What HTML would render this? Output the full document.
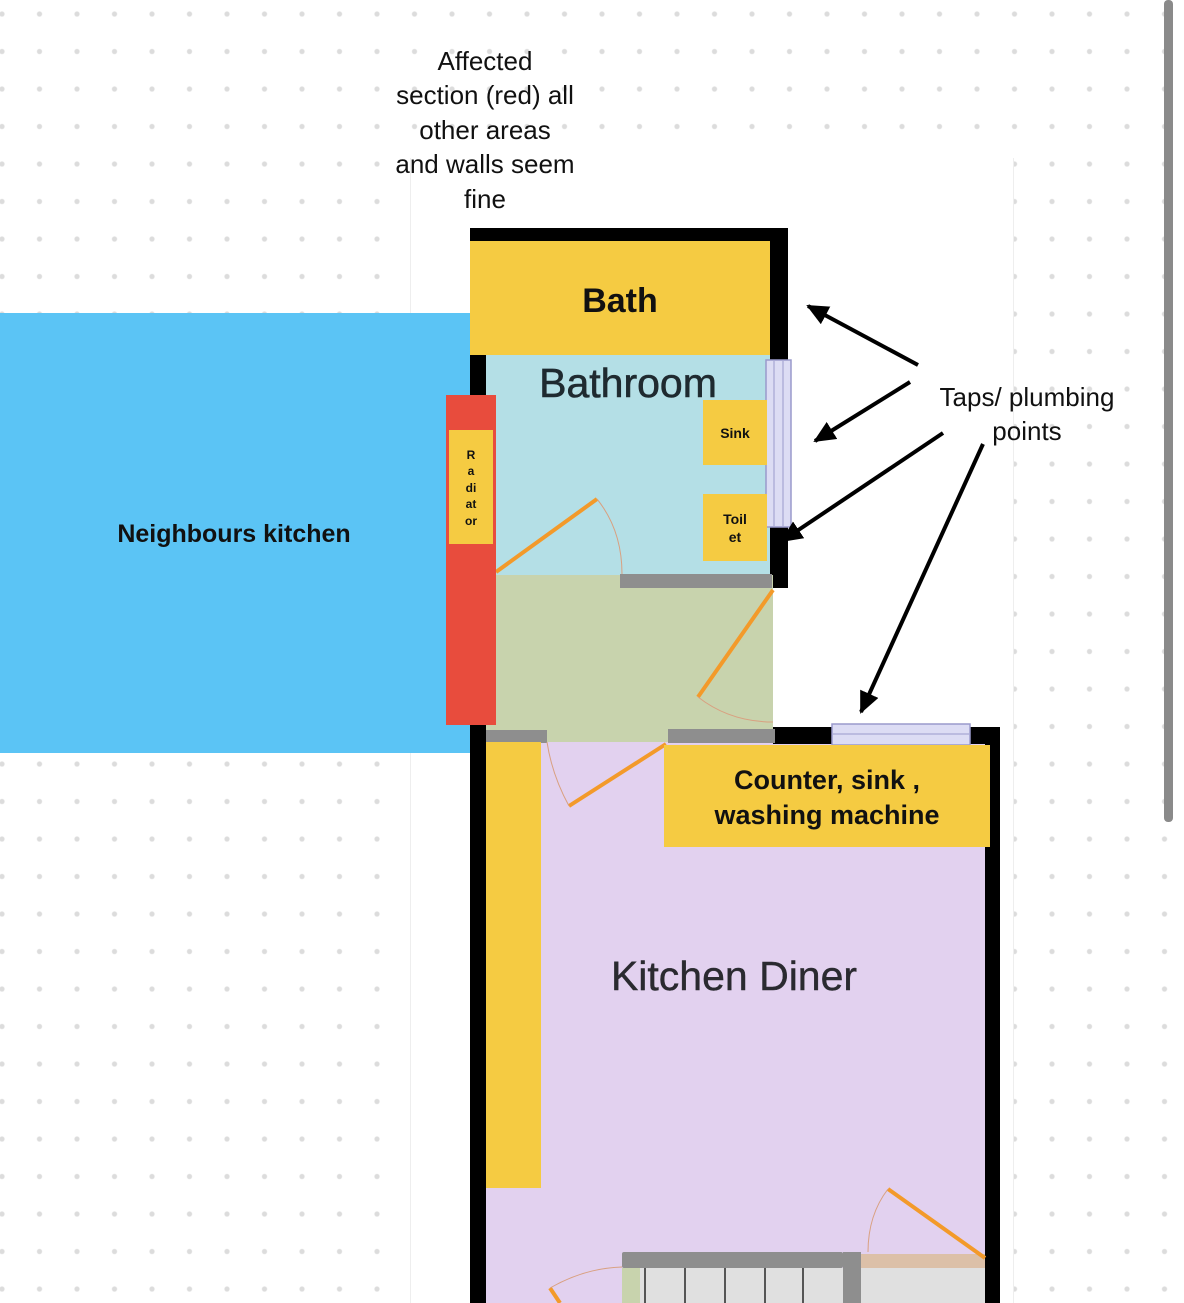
<!DOCTYPE html>
<html><head><meta charset="utf-8"><style>
html,body{margin:0;padding:0;background:#fff;}
body{width:1184px;height:1303px;overflow:hidden;position:relative;font-family:"Liberation Sans",Arial,sans-serif;}
</style></head><body>
<svg width="1184" height="1303" xmlns="http://www.w3.org/2000/svg" style="position:absolute;left:0;top:0">
<defs>
<pattern id="dots" x="-16.75" y="-4.75" width="37.5" height="37.5" patternUnits="userSpaceOnUse">
<circle cx="18.75" cy="18.75" r="2.6" fill="#dcdcdc"/>
</pattern>
<marker id="ah" markerWidth="10" markerHeight="10" refX="9" refY="5" orient="auto" markerUnits="userSpaceOnUse" viewBox="0 0 10 10">
<path d="M0,0 L10,5 L0,10 z" fill="#000"/>
</marker>
<marker id="ah2" markerWidth="22" markerHeight="20" refX="20" refY="10" orient="auto" markerUnits="userSpaceOnUse" viewBox="0 0 22 20">
<path d="M0,0 L22,10 L0,20 z" fill="#000"/>
</marker>
</defs>
<rect width="1184" height="1303" fill="url(#dots)"/>
<!-- image bg -->
<rect x="410" y="158" width="603" height="1145" fill="#fff"/>
<line x1="410.5" y1="158" x2="410.5" y2="1303" stroke="#eee"/>
<line x1="1013.5" y1="158" x2="1013.5" y2="1303" stroke="#eee"/>
<!-- scrollbar -->
<rect x="1164" y="0" width="9" height="822" rx="4" fill="#8a8a8a"/>

<!-- bathroom -->
<rect x="470" y="228" width="318" height="14" fill="#000"/>
<rect x="770" y="228" width="18" height="360" fill="#000"/>
<rect x="470" y="228" width="16" height="520" fill="#000"/>
<rect x="486" y="355" width="284" height="220" fill="#b4dfe6"/>
<rect x="766" y="360" width="25" height="167" fill="#dcdcf4" stroke="#9a9acc" stroke-width="1.5"/>
<line x1="774" y1="361" x2="774" y2="526" stroke="#9a9acc"/>
<line x1="783" y1="361" x2="783" y2="526" stroke="#9a9acc"/>
<rect x="486" y="575" width="287" height="168" fill="#c8d3ad"/>
<rect x="620" y="574" width="152" height="14" fill="#8e8e8e"/>
<!-- doors bathroom -->
<line x1="496" y1="572" x2="597" y2="499" stroke="#f39a2a" stroke-width="4"/>
<path d="M597,499 Q622,530 622,574" fill="none" stroke="#d9a080" stroke-width="1"/>
<line x1="773" y1="590" x2="698" y2="697" stroke="#f39a2a" stroke-width="4"/>
<path d="M698,697 Q730,722 773,722" fill="none" stroke="#d9a080" stroke-width="1"/>

<!-- kitchen -->
<rect x="486" y="742" width="499" height="561" fill="#e2d1ef"/>
<rect x="470" y="742" width="16" height="561" fill="#000"/>
<rect x="985" y="728" width="15" height="575" fill="#000"/>
<rect x="773" y="727" width="227" height="17" fill="#000"/>
<rect x="832" y="724" width="138" height="21" fill="#dcdcf4" stroke="#9a9acc" stroke-width="1.5"/>
<line x1="833" y1="734" x2="969" y2="734" stroke="#9a9acc"/>
<rect x="486" y="730" width="61" height="13" fill="#8e8e8e"/>
<rect x="668" y="729" width="107" height="14" fill="#8e8e8e"/>
<line x1="666" y1="744" x2="569" y2="806" stroke="#f39a2a" stroke-width="4"/>
<path d="M569,806 Q552,775 547,742" fill="none" stroke="#d9a080" stroke-width="1"/>
<!-- stairs -->
<rect x="622" y="1268" width="363" height="35" fill="#e0e0e0"/>
<rect x="622" y="1268" width="18" height="35" fill="#c8d3ad"/>
<g stroke="#555" stroke-width="2"><line x1="645" y1="1268" x2="645" y2="1303"/><line x1="685" y1="1268" x2="685" y2="1303"/><line x1="725" y1="1268" x2="725" y2="1303"/><line x1="765" y1="1268" x2="765" y2="1303"/><line x1="803" y1="1268" x2="803" y2="1303"/></g>
<rect x="843" y="1252" width="18" height="51" fill="#8e8e8e"/>
<rect x="622" y="1252" width="221" height="16" rx="2" fill="#8e8e8e"/>
<rect x="861" y="1254" width="124" height="14" fill="#dcc0a8"/>
<line x1="985" y1="1258" x2="888" y2="1189" stroke="#f39a2a" stroke-width="4"/>
<path d="M888,1189 Q868,1215 868,1252" fill="none" stroke="#d9a080" stroke-width="1"/>
<line x1="550" y1="1288" x2="560" y2="1303" stroke="#f39a2a" stroke-width="4"/>
<path d="M550,1288 Q585,1268 622,1267" fill="none" stroke="#d9a080" stroke-width="1"/>

<!-- overlays -->
<rect x="0" y="313" width="470" height="440" fill="#5bc4f5"/>
<rect x="446" y="395" width="50" height="330" fill="#e84c3d"/>
<rect x="449" y="430" width="44" height="114" fill="#f5cb42"/>
<rect x="470" y="241" width="300" height="114" fill="#f5cb42"/>
<rect x="703" y="400" width="64" height="65" fill="#f5cb42"/>
<rect x="703" y="494" width="64" height="67" fill="#f5cb42"/>
<rect x="664" y="745" width="326" height="102" fill="#f5cb42"/>
<rect x="486" y="742" width="55" height="446" fill="#f5cb42"/>

<!-- arrows -->
<g stroke="#000" stroke-width="4" fill="none">
<line x1="918" y1="365" x2="808" y2="306" marker-end="url(#ah2)"/>
<line x1="910" y1="382" x2="815" y2="441" marker-end="url(#ah2)"/>
<line x1="943" y1="433" x2="782" y2="541" marker-end="url(#ah2)"/>
<line x1="983" y1="444" x2="861" y2="712" marker-end="url(#ah2)"/>
</g>

<!-- texts -->
<g font-family="Liberation Sans, Arial, sans-serif" fill="#111">
<text x="620" y="312" font-size="34" font-weight="bold" text-anchor="middle">Bath</text>
<text x="628" y="397" font-size="41" fill="#1f2a30" text-anchor="middle" stroke="#1f2a30" stroke-width="0.6">Bathroom</text>
<text x="734" y="990" font-size="41" fill="#2a2a30" text-anchor="middle" stroke="#2a2a30" stroke-width="0.4">Kitchen Diner</text>
<text x="735" y="438" font-size="14" font-weight="bold" text-anchor="middle">Sink</text>
<text x="735" y="524" font-size="14" font-weight="bold" text-anchor="middle">Toil</text>
<text x="735" y="542" font-size="14" font-weight="bold" text-anchor="middle">et</text>
<g font-size="12" font-weight="bold" text-anchor="middle">
<text x="471" y="459">R</text><text x="471" y="475">a</text><text x="471" y="492">di</text><text x="471" y="508">at</text><text x="471" y="525">or</text>
</g>
<text x="234" y="542" font-size="25" font-weight="bold" text-anchor="middle">Neighbours kitchen</text>
<text x="827" y="789" font-size="27" font-weight="bold" text-anchor="middle">Counter, sink ,</text>
<text x="827" y="824" font-size="27" font-weight="bold" text-anchor="middle">washing machine</text>
<g font-size="26" text-anchor="middle">
<text x="485" y="70">Affected</text>
<text x="485" y="104">section (red) all</text>
<text x="485" y="139">other areas</text>
<text x="485" y="173">and walls seem</text>
<text x="485" y="208">fine</text>
<text x="1027" y="406">Taps/ plumbing</text>
<text x="1027" y="440">points</text>
</g>
</g>
</svg>
</body></html>
